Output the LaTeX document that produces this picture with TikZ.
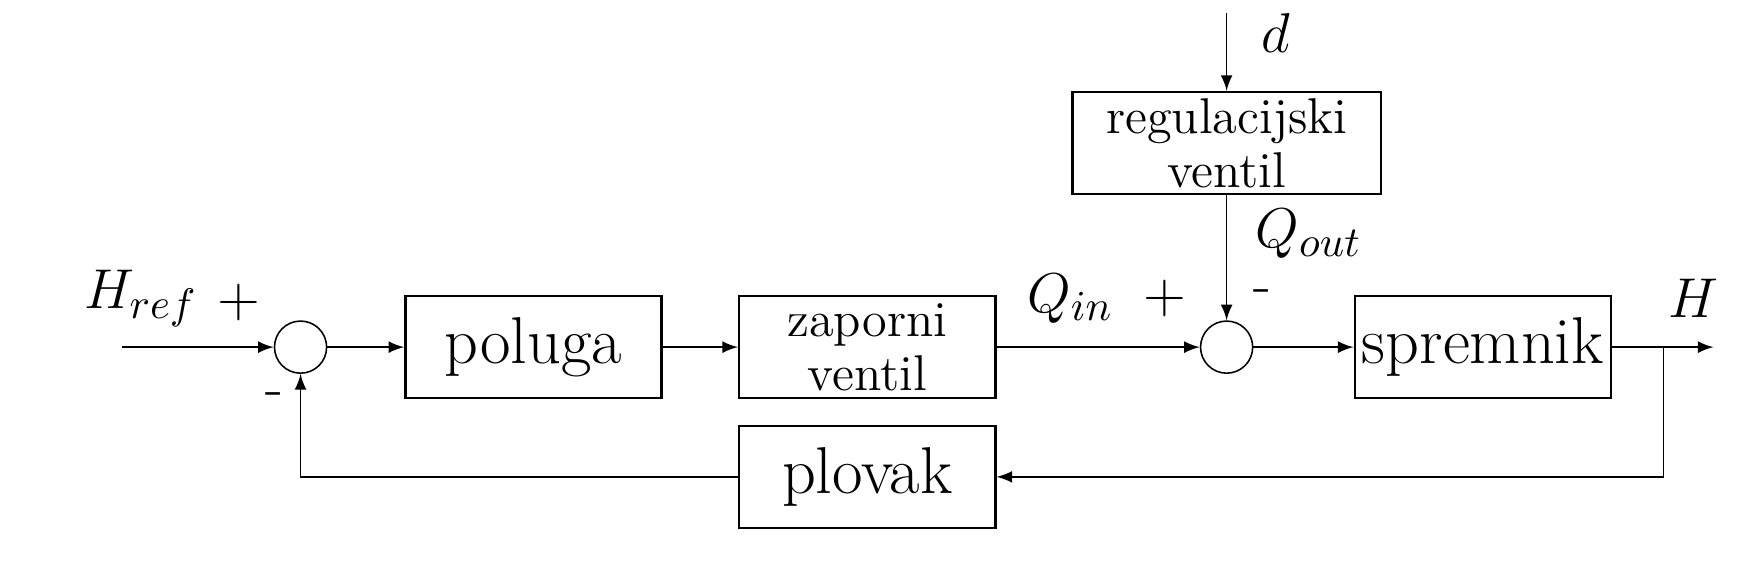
\documentclass[tikz,border=0pt]{standalone}
\usepackage{amsmath}
\tikzset{
  blok/.style={draw, semithick, minimum width=2.31cm, minimum height=0.92cm, inner sep=0pt, align=center},
  zbroj/.style={draw, circle, minimum size=0.47cm, inner sep=0pt},
  veliki/.style={font=\fontsize{17}{20}\selectfont},
  mali/.style={font=\fontsize{12.9}{13.9}\selectfont},
  oznaka/.style={font=\fontsize{15}{17}\selectfont, inner sep=0pt}
}

\begin{document}
\begin{tikzpicture}[>=latex]
\useasboundingbox (0,0) rectangle (15.68,5.06);
% sumatori
\node[zbroj] (s1) at (2.71,1.93) {};
\node[zbroj] (s2) at (11.06,1.93) {};
% blokovi
\node[blok, veliki] (poluga) at (4.81,1.93) {poluga};
\node[blok, mali] (zaporni) at (7.82,1.93) {zaporni\\ventil};
\node[blok, veliki] (spremnik) at (13.37,1.93) {spremnik};
\node[blok, veliki] (plovak) at (7.82,0.76) {plovak};
\node[blok, mali, minimum width=2.78cm] (regulacijski) at (11.06,3.77) {regulacijski\\ventil};
\coordinate (ulaz) at (1.10,1.93);
\coordinate (izlaz) at (15.45,1.93);
\coordinate (smetnja) at (11.06,4.94);
\coordinate (grana) at (15.00,1.93);
% veze
\draw[->] (ulaz) -- (s1);
\draw[->] (s1) -- (poluga);
\draw[->] (poluga) -- (zaporni);
\draw[->] (zaporni) -- (s2);
\draw[->] (smetnja) -- (regulacijski);
\draw[->] (regulacijski) -- (s2);
\draw[->] (s2) -- (spremnik);
\draw[->] (spremnik) -- (izlaz);
\draw[->] (grana) |- (plovak);
\draw[->] (plovak) -| (s1);
% oznake
\node[oznaka] (href) at (1.27,2.37) {$H_{ref}$};
\node[oznaka] (plus1) at (2.15,2.33) {$+$};
\node[oznaka] (minus1) at (2.47,1.46) {-};
\node[oznaka] (qin) at (9.65,2.37) {$Q_{in}$};
\node[oznaka] (plus2) at (10.50,2.37) {$+$};
\node[oznaka] (minus2) at (11.38,2.39) {-};
\node[oznaka] (qout) at (11.80,2.95) {$Q_{out}$};
\node[oznaka] (dd) at (11.50,4.76) {$d$};
\node[oznaka] (h) at (15.27,2.37) {$H$};
\end{tikzpicture}
\end{document}
